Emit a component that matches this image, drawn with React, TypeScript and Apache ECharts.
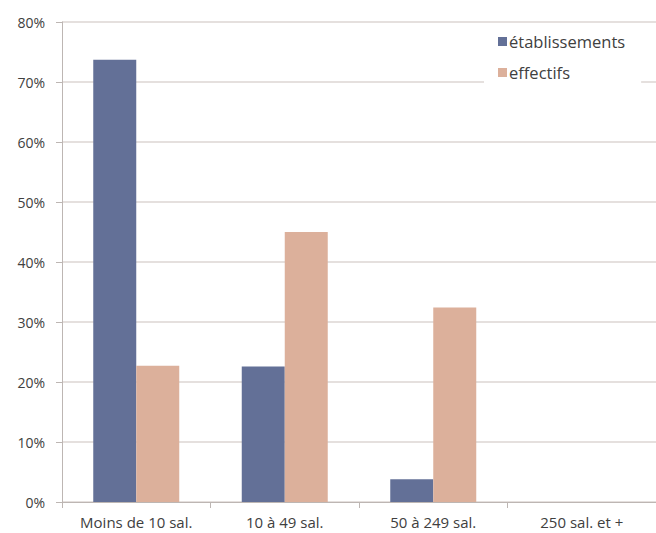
import React, { useEffect, useRef } from "react";
import * as echarts from "echarts";

const categories = ["Moins de 10 sal.", "10 à 49 sal.", "50 à 249 sal.", "250 sal. et +"];
const etablissements = [73.7, 22.6, 3.8, 0];
const effectifs = [22.7, 45.0, 32.4, 0];
const seriesNames = ["établissements", "effectifs"];

export default function App() {
  const ref = useRef<HTMLDivElement>(null);
  useEffect(() => {
    if (!ref.current) return;
    const chart = echarts.init(ref.current, null, { renderer: "svg" });
    const font = "'Open Sans', 'Noto Sans', sans-serif";
    chart.setOption({
      animation: false,
      backgroundColor: "#ffffff",
      textStyle: { fontFamily: font },
      grid: { left: 62, top: 22, width: 600, bottom: 31, containLabel: false },
      legend: {
        orient: "vertical",
        left: 484,
        top: 27,
        padding: [6, 16, 9, 14],
        backgroundColor: "#ffffff",
        itemWidth: 9,
        itemHeight: 9,
        itemGap: 14,
        icon: "rect",
        textStyle: { fontFamily: font, fontSize: 16.5, color: "#404040", padding: [0, 0, 0, -3] },
        data: seriesNames,
      },
      xAxis: {
        type: "category",
        data: categories,
        axisLine: { lineStyle: { color: "#bdb6b3", width: 1 } },
        axisTick: { show: true, interval: 0, length: 6, inside: false, lineStyle: { color: "#bdb6b3" } },
        axisLabel: { interval: 0, color: "#404040", fontSize: 15, fontFamily: font, margin: 12 },
        splitLine: { show: false },
      },
      yAxis: {
        type: "value",
        min: 0,
        max: 80,
        interval: 10,
        axisLine: { show: true, lineStyle: { color: "#bdb6b3", width: 1 } },
        axisTick: { show: true, length: 6, lineStyle: { color: "#bdb6b3" } },
        axisLabel: {
          color: "#404040",
          fontSize: 14,
          fontFamily: font,
          margin: 17,
          formatter: (v: number) => `${v}%`,
        },
        splitLine: { show: true, lineStyle: { color: "#dcd6d3", width: 1.5 } },
      },
      series: [
        {
          name: seriesNames[0],
          type: "bar",
          data: etablissements,
          barWidth: 43,
          barGap: "0%",
          itemStyle: { color: "#637097" },
        },
        {
          name: seriesNames[1],
          type: "bar",
          data: effectifs,
          barWidth: 43,
          barGap: "0%",
          itemStyle: { color: "#dcb09b" },
        },
      ],
    });
    return () => chart.dispose();
  }, []);
  return (
    <div
      ref={ref}
      style={{ position: "fixed", left: 0, top: 0, width: 656, height: 533 }}
    />
  );
}
